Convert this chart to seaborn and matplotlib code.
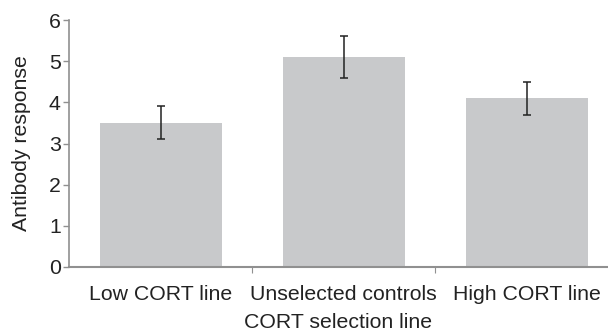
import matplotlib
matplotlib.use("Agg")
import matplotlib.pyplot as plt
import seaborn as sns
import pandas as pd
import numpy as np

categories = ["Low CORT line", "Unselected controls", "High CORT line"]
values = [3.5, 5.1, 4.1]
errors = [0.4, 0.5, 0.4]

sns.set_theme(style="white")
plt.rcParams['font.family'] = ['Liberation Sans', 'DejaVu Sans']

W, H = 608, 334
fs = 15.3
fig = plt.figure(figsize=(W / 100, H / 100), dpi=100)
ax = fig.add_axes([69 / W, 67 / H, (608 - 69) / W, (267 - 20) / H])

df = pd.DataFrame({"cat": categories, "val": values})
sns.barplot(data=df, x="cat", y="val", color="#c8c9cb", saturation=1,
            width=2 / 3, errorbar=None, ax=ax, edgecolor="none")
ax.errorbar(np.arange(len(values)), values, yerr=errors, fmt="none",
            ecolor="#222222", elinewidth=1.1, capsize=3, capthick=1.1)

ax.set_ylim(0, 6)
ax.set_xlim(-0.5, 2.5 - 10 / 183)
ax.set_yticks(range(0, 7))
ax.set_xticks([0.5, 1.5], minor=True)
ax.tick_params(axis="x", which="major", length=0, pad=13, labelsize=fs, colors="#222222")
ax.tick_params(axis="x", which="minor", bottom=True, length=4, width=0.8, color="#909090")
ax.tick_params(axis="y", which="major", left=True, length=4, width=1, color="#909090",
               labelsize=fs, labelcolor="#222222", pad=2)
for s in ["top", "right"]:
    ax.spines[s].set_visible(False)
ax.spines["left"].set_color("#909090")
ax.spines["left"].set_linewidth(1.2)
ax.spines["bottom"].set_color("#909090")
ax.spines["bottom"].set_linewidth(1.5)
ax.set_xlabel("CORT selection line", fontsize=fs, color="#222222", labelpad=6.5)
ax.set_ylabel("Antibody response", fontsize=fs, color="#222222", labelpad=13)

fig.savefig("out.png", dpi=100)
